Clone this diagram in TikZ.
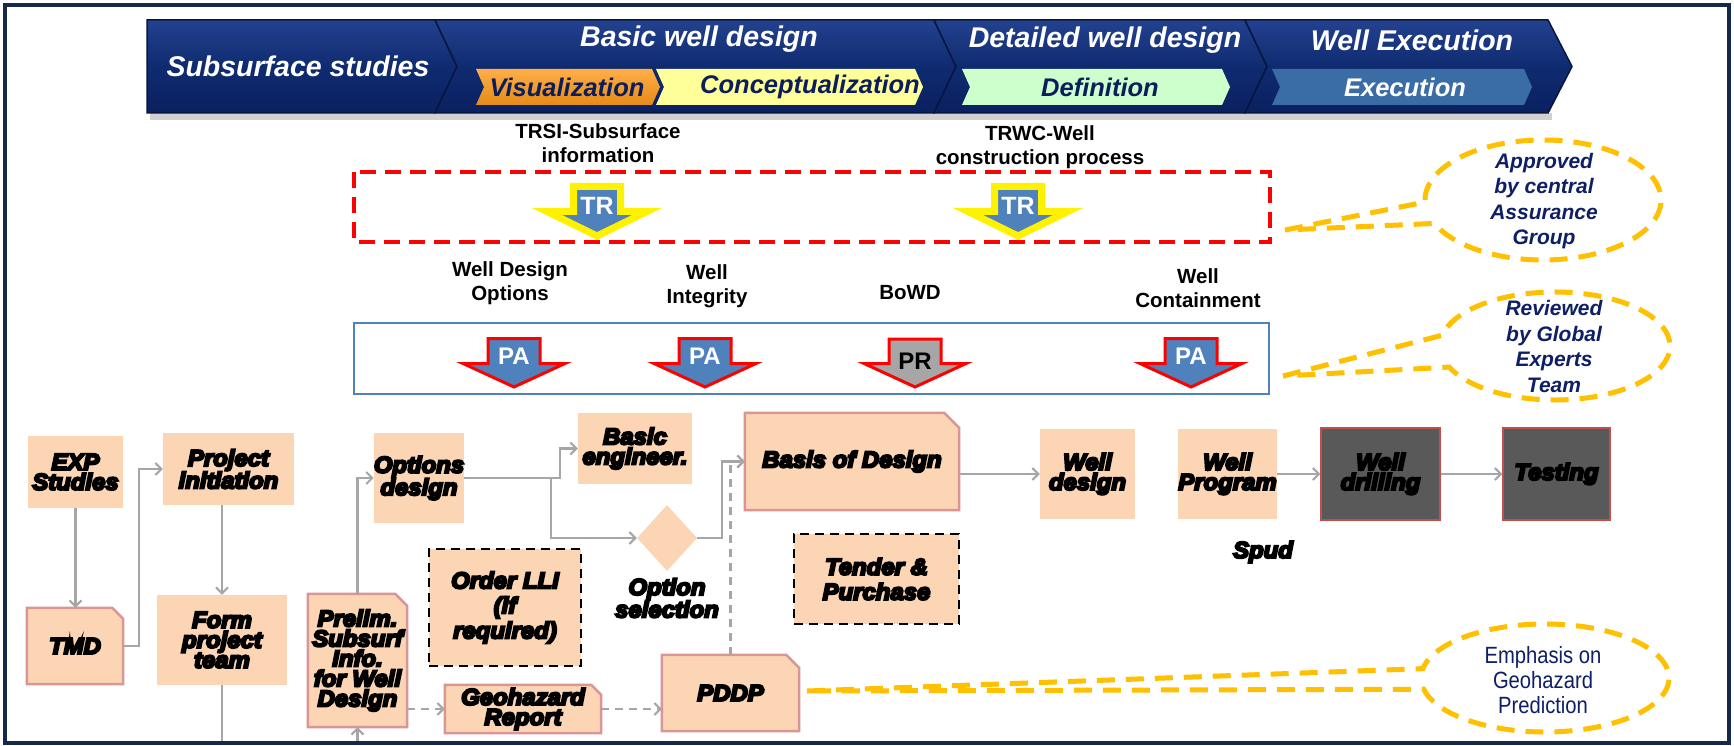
\documentclass[tikz,border=0pt]{standalone}
\usepackage{fontspec}
\setmainfont{Liberation Sans}
\newfontfamily\boxfam{Liberation Sans}[BoldItalicFeatures={FakeBold=9,FakeStretch=1.04}]
\newfontfamily\narrowfam{Liberation Sans}[FakeStretch=0.86]
\usetikzlibrary{shapes.geometric,arrows.meta,backgrounds,calc}
\definecolor{peach}{HTML}{FCD5B5}
\definecolor{sniped}{HTML}{DA9694}
\definecolor{conngray}{HTML}{A6A6A6}
\definecolor{darkfill}{HTML}{595959}
\definecolor{darkedge}{HTML}{C0504D}
\definecolor{navytext}{HTML}{0F1F66}
\definecolor{callcol}{HTML}{FFC000}
\definecolor{boxblue}{HTML}{4F81BD}
\definecolor{framecol}{HTML}{16284A}
\definecolor{bantop}{HTML}{23418F}
\definecolor{banmid}{HTML}{0F2B70}
\definecolor{banbot}{HTML}{0A2060}
\definecolor{banedge}{HTML}{07163F}
\definecolor{visor}{HTML}{FF9A1A}
\definecolor{conyel}{HTML}{FFFF99}
\definecolor{defgrn}{HTML}{CCFFCC}
\definecolor{exeblue}{HTML}{3A6CA6}
\definecolor{subnavy}{HTML}{0B1E5B}
\definecolor{prgray}{HTML}{A6A6A6}
\newcommand{\bxfont}{\boxfam\bfseries\itshape\fontsize{23}{20}\selectfont}
\newcommand{\bxfontw}{\boxfam\bfseries\itshape\fontsize{23}{25}\selectfont}
\newcommand{\blockdown}[7]{\path[#1] ({#2-#4},#3) -- ({#2+#4},#3) -- ({#2+#4},#5) -- ({#2+#6},#5) -- (#2,#7) -- ({#2-#6},#5) -- ({#2-#4},#5) -- cycle;}
\newcommand{\snipfill}[2]{\path[snipshape] (#1.south west) -- (#1.north west) -- ([xshift=-#2]#1.north east) -- ([yshift=-#2]#1.north east) -- (#1.south east) -- cycle;}
\tikzset{
  pbox/.style={fill=peach, inner sep=0pt, align=center, font=\bxfont},
  sbox/.style={inner sep=0pt, align=center, font=\bxfont},
  snipshape/.style={fill=peach, draw=sniped, line width=2.5pt},
  dashbox/.style={pbox, draw=black, line width=2.5pt, dash pattern=on 9pt off 6pt, font=\bxfontw},
  darkbox/.style={fill=darkfill, draw=darkedge, line width=1.5pt, inner sep=0pt, align=center, font=\bxfont},
  conn/.style={draw=conngray, line width=2.5pt, -{Straight Barb[length=6pt,width=12pt,line width=2pt]}},
  dconn/.style={conn, dash pattern=on 8pt off 6pt},
  plainline/.style={draw=conngray, line width=2.5pt},
  lbl/.style={font=\bfseries\fontsize{20.5}{24}\selectfont, align=center},
  callout/.style={draw=callcol, line width=5pt, dash pattern=on 18pt off 11pt},
  ctext/.style={font=\bfseries\itshape\fontsize{21}{25.5}\selectfont, text=navytext, align=center},
  etext/.style={font=\narrowfam\fontsize{23.5}{25}\selectfont, text=navytext, align=center},
  bseg/.style={top color=bantop, bottom color=banbot, middle color=banmid, draw=banedge, line width=1.5pt},
  btitle/.style={font=\bfseries\itshape\fontsize{28.5}{30}\selectfont, text=white},
  bsub/.style={font=\bfseries\itshape\fontsize{25.5}{28}\selectfont},
  trarrow/.style={fill=boxblue, draw=yellow, line width=7pt, line join=miter},
  paarrow/.style={fill=boxblue, draw=red, line width=3pt, line join=miter},
  prarrow/.style={fill=prgray, draw=red, line width=3pt, line join=miter},
  arrtext/.style={font=\bfseries\fontsize{24}{24}\selectfont, text=white}
}
\begin{document}
\begin{tikzpicture}[x=1pt,y=-1pt]
\useasboundingbox (0,0) rectangle (1734,746);
\begin{pgfonlayer}{background}
\fill[white] (0,0) rectangle (1734,746);
\end{pgfonlayer}

% ---------- banner ----------
\fill[black!18] (150,113) rectangle (1552,120);
\path[bseg] (147,20) -- (435,20) -- (457,66.5) -- (435,113) -- (147,113) -- cycle;
\path[bseg] (435,20) -- (934,20) -- (956,66.5) -- (934,113) -- (435,113) -- (457,66.5) -- cycle;
\path[bseg] (934,20) -- (1245,20) -- (1267,66.5) -- (1245,113) -- (934,113) -- (956,66.5) -- cycle;
\path[bseg] (1245,20) -- (1548,20) -- (1572,66.5) -- (1548,113) -- (1245,113) -- (1267,66.5) -- cycle;
\path[top color=visor!80!white, bottom color=visor!90!black] (476,69) -- (652,69) -- (660,87) -- (652,105) -- (476,105) -- (484,87) -- cycle;
\path[fill=conyel] (656,69) -- (915,69) -- (923,87) -- (915,105) -- (656,105) -- (664,87) -- cycle;
\path[fill=defgrn] (962,69) -- (1222,69) -- (1230,87) -- (1222,105) -- (962,105) -- (970,87) -- cycle;
\path[fill=exeblue] (1272,69) -- (1524,69) -- (1532,87) -- (1524,105) -- (1272,105) -- (1280,87) -- cycle;
\node[btitle] (tsub) at (298,66) {Subsurface studies};
\node[btitle] (tbasic) at (699,39) {Basic well design};
\node[btitle] (tdet) at (1105,40) {Detailed well design};
\node[btitle] (texe) at (1412,40) {Well Execution};
\node[bsub, text=subnavy] (tvis) at (567,87) {Visualization};
\node[bsub, text=subnavy] (tcon) at (810,87) {Conceptualization};
\node[bsub, text=subnavy] (tdef) at (1100,87) {Definition};
\node[bsub, text=white] (texec) at (1405,87) {Execution};

% ---------- TR row ----------
\node[lbl] (trsi) at (598,143.5) {TRSI-Subsurface\\information};
\node[lbl] (trwc) at (1040,147.5) {TRWC-Well\\construction process};
\draw[red, line width=4pt, dash pattern=on 16pt off 9pt] (354,172) rectangle (1270,242);
\blockdown{trarrow}{597}{186.5}{23.5}{211.5}{50}{236}
\blockdown{trarrow}{1018}{186.5}{23.5}{211.5}{50}{236}
\node[arrtext, font=\bfseries\fontsize{25}{25}\selectfont] (tr1) at (597,206) {TR};
\node[arrtext, font=\bfseries\fontsize{25}{25}\selectfont] (tr2) at (1018,206) {TR};

% ---------- PA row ----------
\node[lbl] (lwdo) at (510,283.5) {Well Design\\Options};
\node[lbl] (lwi) at (707,286) {Well\\Integrity};
\node[lbl] (lbowd) at (910,293) {BoWD};
\node[lbl] (lwc) at (1198,288.5) {Well\\Containment};
\draw[boxblue, line width=2pt] (354,323) rectangle (1269,394);
\blockdown{paarrow}{514}{338.5}{26}{363.5}{51}{387}
\blockdown{paarrow}{705}{338.5}{26}{363.5}{51}{387}
\blockdown{prarrow}{915}{339}{26}{363.5}{51}{387}
\blockdown{paarrow}{1191}{338.5}{26}{363.5}{51}{387}
\node[arrtext] (pa1) at (514,356) {PA};
\node[arrtext] (pa2) at (705,356) {PA};
\node[arrtext, text=black] (pr1) at (915,361) {PR};
\node[arrtext] (pa4) at (1191,356) {PA};

% ---------- callouts ----------
\draw[callout] (1285,230) -- (1425.07,202.09) arc[start angle=178, end angle=517, x radius=118, y radius=60] -- cycle;
\node[ctext] (appr) at (1544,201) {Approved\\by central\\Assurance\\Group};
\draw[callout] (1283,376) -- (1442.31,335.23) arc[start angle=191.5, end angle=517, x radius=115, y radius=54] -- cycle;
\node[ctext] (rev) at (1554,346.5) {Reviewed\\by Global\\Experts\\Team};

% ---------- flow boxes ----------
\node[pbox, minimum width=95pt, minimum height=72pt] (exp) at (75.5,472) {EXP\\Studies};
\node[pbox, minimum width=131pt, minimum height=72pt] (proj) at (228.5,469) {Project\\initiation};
\node[pbox, minimum width=90pt, minimum height=90pt] (opt) at (419,478) {Options\\design};
\node[pbox, minimum width=114pt, minimum height=71pt] (basic) at (635,448.5) {Basic\\engineer.};
\node[diamond, fill=peach, inner sep=0pt, minimum width=60pt, minimum height=66pt] (sel) at (667,538) {};
\node[sbox] (sellbl) at (667,598) {Option\\selection};
\node[sbox, minimum width=96pt, minimum height=76pt] (tmd) at (75,646) {TMD};
\node[pbox, minimum width=130pt, minimum height=90pt] (form) at (222,640) {Form\\project\\team};
\node[sbox, minimum width=99pt, minimum height=133pt] (prelim) at (357.5,660.5) {Prelim.\\Subsurf\\Info.\\for Well\\Design};
\node[dashbox, minimum width=152pt, minimum height=117pt] (lli) at (505,607.5) {Order LLI\\(if\\required)};
\node[sbox, minimum width=156pt, minimum height=48pt] (geo) at (523,709) {Geohazard\\Report};
\node[sbox, minimum width=137pt, minimum height=76pt] (pddp) at (730.5,693) {PDDP};
\node[sbox, minimum width=214pt, minimum height=97pt] (bod) at (852,461.5) {Basis of Design};
\node[dashbox, minimum width=165pt, minimum height=90pt] (tender) at (876.5,579) {Tender \&\\Purchase};
\node[pbox, minimum width=95pt, minimum height=90pt] (wd) at (1087.5,474) {Well\\design};
\node[pbox, minimum width=99pt, minimum height=90pt] (wp) at (1227.5,474) {Well\\Program};
\node[darkbox, minimum width=119pt, minimum height=92pt] (wdr) at (1380.5,474) {Well\\drilling};
\node[darkbox, minimum width=107pt, minimum height=92pt] (test) at (1556.5,474) {Testing};
\node[sbox] (spud) at (1263,552) {Spud};

\begin{pgfonlayer}{background}
\snipfill{tmd}{11pt}
\snipfill{prelim}{12pt}
\snipfill{geo}{10pt}
\snipfill{pddp}{13pt}
\snipfill{bod}{15pt}
\end{pgfonlayer}

% ---------- connectors ----------
\coordinate (bot) at (0,743);
\coordinate (j1) at (551,478);
\coordinate (j2) at (560,478);
\coordinate (j3) at (722,538);
\draw[conn] (exp.south) -- (exp.south |- tmd.north);
\draw[conn] (tmd.east) -- ++(16,0) |- (proj.west);
\draw[conn] (form.north |- proj.south) -- (form.north);
\draw[plainline] (form.south) -- (form.south |- bot);
\draw[conn] (prelim.south |- bot) -- (prelim.south);
\draw[conn] (prelim.north) |- (opt.west);
\draw[conn] (opt.east) -- (j2) |- (basic.west);
\draw[conn] (j1) |- (sel.west);
\draw[conn] (sel.east) -- (j3) |- (bod.west);
\draw[dconn] (pddp.north) |- (bod.west);
\draw[dconn] (prelim.east |- geo.west) -- (geo.west);
\draw[dconn] (geo.east) -- (pddp.west |- geo.east);
\draw[conn] (bod.east |- wd.west) -- (wd.west);
\draw[conn] (wp.east) -- (wdr.west);
\draw[conn] (wdr.east) -- (test.west);

% ---------- emphasis callout ----------
\draw[callout] (807,691) -- (1422.88,668.62) arc[start angle=190, end angle=528, x radius=124, y radius=54] -- cycle;
\node[etext] (emph) at (1543,680) {Emphasis on\\Geohazard\\Prediction};

% ---------- frame ----------
\draw[framecol, line width=4pt] (5,5) rectangle (1729,743);
\end{tikzpicture}
\end{document}
